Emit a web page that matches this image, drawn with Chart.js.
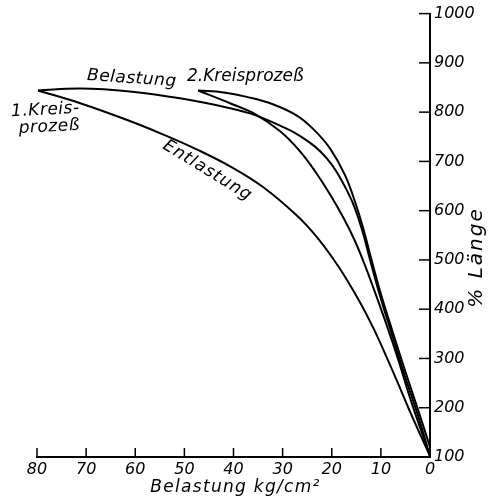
<!DOCTYPE html>
<html>
<head>
<meta charset="utf-8">
<script src="https://cdn.jsdelivr.net/npm/chart.js@4.4.1/dist/chart.umd.min.js"></script>
<style>
  html, body { margin: 0; padding: 0; background: #fff; }
</style>
</head>
<body>
<canvas id="chart" width="492" height="503"></canvas>
<script>
// Belastung kg/cm^2 (x) gegen % Länge (y)
var loadTicks = [80, 70, 60, 50, 40, 30, 20, 10, 0];
var lengthTicks = [100, 200, 300, 400, 500, 600, 700, 800, 900, 1000];

// 1. Kreisprozess, Belastung (obere Kurve)
var load1Up = [0, 2.6, 5.3, 7.7, 10.2, 12.2, 13.8, 15.9, 18.9, 21.0, 23.4, 26.5, 29.5, 35.6, 40.7, 50.9, 61.1, 71.2, 79.8];
var length1Up = [102, 189, 270, 347, 428, 500, 560, 620, 677, 706, 730, 752, 768, 794, 808, 828, 842, 848, 844];

// 1. Kreisprozess, Entlastung (untere Kurve)
var load1Down = [0, 2.2, 4.5, 6.7, 9.2, 11.6, 14.2, 17.3, 19.9, 23.0, 27.1, 34.0, 40.7, 47.4, 54.4, 61.1, 71.2, 79.8];
var length1Down = [102, 150, 202, 254, 311, 363, 413, 466, 505, 546, 590, 648, 690, 724, 755, 782, 818, 844];

// 2. Kreisprozess, Belastung
var load2Up = [0, 2.4, 4.9, 7.7, 10.2, 12.0, 13.4, 14.9, 17.3, 20.4, 23.8, 27.1, 32.0, 37.3, 42.0, 47.2];
var length2Up = [120, 195, 270, 357, 438, 504, 557, 607, 672, 727, 766, 793, 816, 831, 840, 844];

// 2. Kreisprozess, Entlastung
var load2Down = [0, 2.0, 4.1, 6.1, 8.1, 10.6, 13.2, 15.3, 17.7, 20.4, 23.4, 26.5, 30.5, 35.6, 40.7, 47.2];
var length2Down = [102, 159, 221, 286, 347, 418, 488, 539, 587, 634, 680, 721, 761, 796, 818, 844];

var FONT = "DejaVu Sans";

function points(xs, ys) {
  return xs.map(function (x, i) { return { x: x, y: ys[i] }; });
}

function curve(label, xs, ys) {
  return {
    label: label,
    data: points(xs, ys),
    borderColor: "#000",
    borderWidth: 2,
    pointRadius: 0,
    fill: false,
    tension: 0.4,
  };
}

// Beschriftungen im Diagramm (Lage in Datenkoordinaten)
var notes = [
  { text: "Belastung", x: 60.7, y: 868, angle: 4, spacing: 0.5 },
  { text: "2.Kreisprozeß", x: 37.6, y: 872, angle: 0, spacing: 0 },
  { text: "1.Kreis-", x: 78.3, y: 804, angle: -3, spacing: 0.5 },
  { text: "prozeß", x: 77.5, y: 770, angle: -3, spacing: 0.5 },
  { text: "Entlastung", x: 45.3, y: 681, angle: 31.6, spacing: 1 },
];

var decor = {
  id: "decor",
  afterDraw: function (chart) {
    var ctx = chart.ctx;
    var xs = chart.scales.x;
    var ys = chart.scales.y;
    var area = chart.chartArea;
    ctx.save();
    ctx.strokeStyle = "#000";
    ctx.lineWidth = 1.5;
    // Teilstriche nach innen
    xs.ticks.forEach(function (t) {
      if (t.value === 0) return;
      var px = xs.getPixelForValue(t.value);
      ctx.beginPath();
      ctx.moveTo(px, area.bottom);
      ctx.lineTo(px, area.bottom - 9);
      ctx.stroke();
    });
    ys.ticks.forEach(function (t) {
      if (t.value === 100) return;
      var py = ys.getPixelForValue(t.value);
      ctx.beginPath();
      ctx.moveTo(area.right - 11, py);
      ctx.lineTo(area.right, py);
      ctx.stroke();
    });

    ctx.fillStyle = "#000";
    ctx.textAlign = "center";
    ctx.textBaseline = "middle";
    ctx.font = "italic 17px '" + FONT + "'";
    notes.forEach(function (n) {
      ctx.save();
      ctx.letterSpacing = n.spacing + "px";
      ctx.translate(xs.getPixelForValue(n.x), ys.getPixelForValue(n.y));
      ctx.rotate(n.angle * Math.PI / 180);
      ctx.fillText(n.text, 0, 0);
      ctx.restore();
    });

    // Achsentitel unten
    ctx.save();
    ctx.font = "italic 17px '" + FONT + "'";
    ctx.letterSpacing = "1.3px";
    ctx.fillText("Belastung kg/cm²", (area.left + area.right) / 2 + 2, area.bottom + 31);
    ctx.restore();

    // Achsentitel rechts, von unten nach oben
    ctx.save();
    ctx.font = "italic 20px '" + FONT + "'";
    ctx.letterSpacing = "2px";
    ctx.translate(area.right + 47, ys.getPixelForValue(505));
    ctx.rotate(-Math.PI / 2);
    ctx.fillText("% Länge", 0, 0);
    ctx.restore();
    ctx.restore();
  },
};

new Chart(document.getElementById("chart"), {
  type: "line",
  data: {
    datasets: [
      curve("1. Kreisprozeß Belastung", load1Up, length1Up),
      curve("1. Kreisprozeß Entlastung", load1Down, length1Down),
      curve("2. Kreisprozeß Belastung", load2Up, length2Up),
      curve("2. Kreisprozeß Entlastung", load2Down, length2Down),
    ],
  },
  options: {
    responsive: false,
    animation: false,
    layout: { padding: { left: 37, top: 12, right: 0, bottom: 0 } },
    plugins: { legend: { display: false }, tooltip: { enabled: false } },
    scales: {
      x: {
        type: "linear",
        reverse: true,
        min: 0,
        max: 80,
        afterBuildTicks: function (s) { s.ticks = loadTicks.map(function (v) { return { value: v }; }); },
        afterFit: function (s) { s.height = 46; },
        grid: { display: false, drawTicks: false },
        border: { display: true, color: "#000", width: 2 },
        ticks: {
          padding: 3,
          color: "#000",
          maxRotation: 0,
          callback: function (v) { return String(v); },
          font: { family: FONT, style: "italic", size: 16 },
        },
      },
      y: {
        type: "linear",
        position: "right",
        min: 100,
        max: 1000,
        afterBuildTicks: function (s) { s.ticks = lengthTicks.map(function (v) { return { value: v }; }); },
        afterFit: function (s) { s.width = 62; },
        grid: { display: false, drawTicks: false },
        border: { display: true, color: "#000", width: 2 },
        ticks: {
          padding: 4,
          color: "#000",
          callback: function (v) { return String(v); },
          font: { family: FONT, style: "italic", size: 16 },
        },
      },
    },
  },
  plugins: [decor],
});
</script>
</body>
</html>
